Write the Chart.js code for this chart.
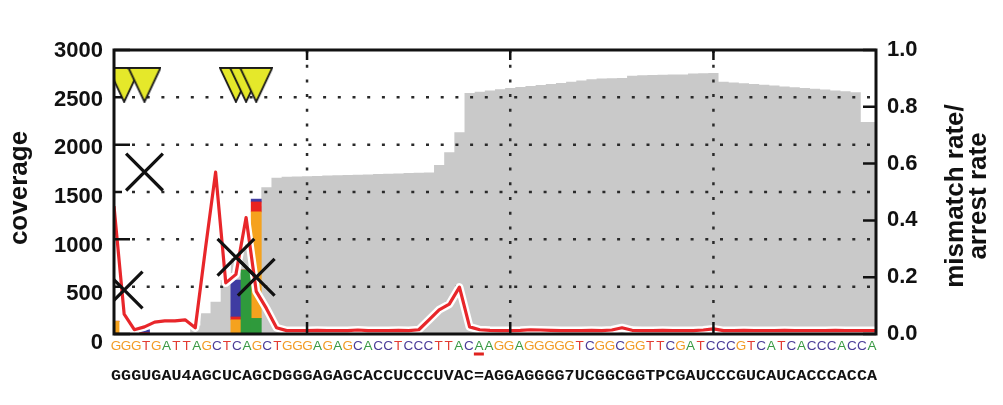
<!DOCTYPE html>
<html>
<head>
<meta charset="utf-8">
<title>tRNA coverage / mismatch profile</title>
<script src="https://cdn.jsdelivr.net/npm/chart.js@4/dist/chart.umd.min.js"></script>
<style>
  html, body { margin: 0; padding: 0; background: #fff; }
  #wrap { width: 1003px; height: 405px; }
</style>
</head>
<body>
<div id="wrap"><canvas id="profile" width="1003" height="405"></canvas></div>
<script>
// reference DNA sequence and the modified tRNA sequence (one letter per position)
const dnaSeq = 'GGGTGATTAGCTCAGCTGGGAGAGCACCTCCCTTACAAGGAGGGGGTCGGCGGTTCGATCCCGTCATCACCCACCA';
const modSeq = 'GGGUGAU4AGCUCAGCDGGGAGAGCACCUCCCUVAC=AGGAGGGG7UCGGCGGTPCGAUCCCGUCAUCACCCACCA';
const positions = dnaSeq.split('').map((_, i) => i + 1);

// read coverage per position (left axis)
const coverage = [
  0, 0, 0, 0, 0, 0, 0, 0, 90, 220,
  340, 570, 800, 1100, 1350, 1550, 1650, 1660, 1663, 1666,
  1670, 1673, 1676, 1680, 1683, 1686, 1690, 1693, 1696, 1700,
  1703, 1706, 1785, 1920, 2130, 2545, 2560, 2572, 2585, 2598,
  2610, 2620, 2630, 2640, 2652, 2665, 2678, 2690, 2700, 2702,
  2705, 2728, 2732, 2735, 2738, 2740, 2742, 2752, 2755, 2758,
  2665, 2657, 2648, 2640, 2632, 2624, 2615, 2607, 2598, 2590,
  2582, 2573, 2565, 2555, 2240, 2240
];

// mismatch rate per position (right axis)
const mismatchRate = [
  0.45, 0.07, 0.015, 0.025, 0.042, 0.046, 0.046, 0.05, 0.022, 0.30,
  0.57, 0.18, 0.21, 0.41, 0.15, 0.09, 0.022, 0.012, 0.012, 0.012,
  0.013, 0.012, 0.012, 0.012, 0.014, 0.012, 0.012, 0.012, 0.013, 0.012,
  0.015, 0.05, 0.085, 0.105, 0.165, 0.025, 0.015, 0.013, 0.012, 0.012,
  0.013, 0.015, 0.014, 0.013, 0.012, 0.012, 0.012, 0.013, 0.012, 0.014,
  0.022, 0.013, 0.012, 0.012, 0.013, 0.012, 0.012, 0.012, 0.014, 0.018,
  0.012, 0.012, 0.013, 0.012, 0.012, 0.012, 0.013, 0.012, 0.012, 0.012,
  0.012, 0.013, 0.012, 0.012, 0.012, 0.012
];

// arrest sites (crosses)
const arrestPos = [2, 4, 13, 15];
const arrestRate = [0.155, 0.57, 0.27, 0.2];

// known modification sites, flagged along the top
const modPos = [2, 4, 13, 14, 15];
const modFlagLevel = 0.877;

// mismatch breakdown by called base
const mmPos = [1, 4, 13, 14, 15];
const mmA = [0, 0, 0, 0.225, 0.055];
const mmG = [0.045, 0, 0.05, 0, 0.375];
const mmT = [0, 0.005, 0.01, 0, 0.035];
const mmC = [0, 0.01, 0.13, 0, 0.01];

const coverageTicks = [0, 500, 1000, 1500, 2000, 2500, 3000];
const rateTicks = [0, 0.2, 0.4, 0.6, 0.8, 1.0];
const gridPos = [20, 40, 60];
const underlined = [37];

const baseColor = { G: '#f29b26', A: '#3a9a44', T: '#e23b32', C: '#4b3c98' };
const FONT = '"Liberation Sans", Arial, sans-serif';

const pts = (xs, ys) => xs.map((x, i) => ({ x: x, y: ys[i] }));

// downward yellow flag used as a point style
function makeFlag(w, h) {
  const c = document.createElement('canvas');
  c.width = w; c.height = h;
  const g = c.getContext('2d');
  g.beginPath();
  g.moveTo(1, 1);
  g.lineTo(w - 1, 1);
  g.lineTo(w / 2, h - 1);
  g.closePath();
  g.fillStyle = '#e5e82a';
  g.fill();
  g.lineWidth = 1.8;
  g.strokeStyle = '#1a1a1a';
  g.stroke();
  return c;
}

function rotatedText(ctx, text, x, y) {
  ctx.save();
  ctx.translate(x, y);
  ctx.rotate(-Math.PI / 2);
  ctx.fillText(text, 0, 0);
  ctx.restore();
}

const frame = {
  id: 'frame',
  // dotted grid goes on top of the coverage fill, under everything else
  afterDatasetDraw(chart, args) {
    if (args.index !== 0) return;
    const { ctx, chartArea: a, scales: { x, y } } = chart;
    ctx.save();
    ctx.strokeStyle = '#2a2a2a';
    ctx.lineWidth = 2.5;
    ctx.setLineDash([3, 11.7]);
    coverageTicks.slice(1, -1).forEach(v => {
      const py = y.getPixelForValue(v);
      ctx.beginPath();
      ctx.moveTo(a.left + 18, py);
      ctx.lineTo(a.right, py);
      ctx.stroke();
    });
    gridPos.forEach(p => {
      const px = x.getPixelForValue(p);
      ctx.beginPath();
      ctx.moveTo(px, a.top);
      ctx.lineTo(px, a.bottom);
      ctx.stroke();
    });
    ctx.restore();
  },
  afterDatasetsDraw(chart) {
    const { ctx, chartArea: a, scales: { x, y, y1 } } = chart;
    ctx.save();
    ctx.strokeStyle = '#111';
    ctx.lineWidth = 2.5;
    ctx.beginPath();
    coverageTicks.forEach(v => {
      const py = y.getPixelForValue(v);
      const len = v % 1000 === 0 ? 16 : 8;
      ctx.moveTo(a.left, py); ctx.lineTo(a.left + len, py);
    });
    rateTicks.forEach(v => {
      const py = y1.getPixelForValue(v);
      ctx.moveTo(a.right, py); ctx.lineTo(a.right - 13, py);
    });
    gridPos.forEach(p => {
      const px = x.getPixelForValue(p);
      ctx.moveTo(px, a.top); ctx.lineTo(px, a.top + 10);
      ctx.moveTo(px, a.bottom); ctx.lineTo(px, a.bottom - 12);
    });
    ctx.stroke();
    ctx.lineWidth = 3;
    ctx.strokeRect(a.left, a.top, a.right - a.left, a.bottom - a.top);
    ctx.restore();
  },
  afterDraw(chart) {
    const { ctx, chartArea: a, scales: { y } } = chart;
    ctx.save();
    ctx.fillStyle = '#111';

    // left tick labels
    ctx.font = 'bold 22px ' + FONT;
    ctx.textAlign = 'right';
    ctx.textBaseline = 'middle';
    coverageTicks.forEach(v => {
      const py = y.getPixelForValue(v) + (1 - v / 3000) * 8 + 1;
      ctx.fillText(String(v), a.left - 11, py);
    });

    // axis titles
    ctx.font = 'bold 26px ' + FONT;
    ctx.textAlign = 'center';
    ctx.textBaseline = 'alphabetic';
    rotatedText(ctx, 'coverage', 27, 188);
    rotatedText(ctx, 'mismatch rate/', 963, 196);
    rotatedText(ctx, 'arrest rate', 986, 196);

    // sequences under the x axis
    const step = (a.right - a.left - 6) / (dnaSeq.length - 1);
    const x0 = a.left + 2;
    ctx.textAlign = 'center';
    ctx.font = '13.5px ' + FONT;
    dnaSeq.split('').forEach((ch, i) => {
      ctx.fillStyle = baseColor[ch] || '#111';
      ctx.fillText(ch, x0 + i * step, 350);
    });
    ctx.fillStyle = '#e0231f';
    underlined.forEach(p => {
      ctx.fillRect(x0 + (p - 1) * step - 5, 352.5, 10, 3);
    });
    ctx.fillStyle = '#111';
    ctx.font = 'bold 14.5px "Liberation Mono", monospace';
    modSeq.split('').forEach((ch, i) => {
      ctx.save();
      ctx.translate(x0 + i * step, 379.5);
      ctx.scale(1.15, 1);
      ctx.fillText(ch, 0, 0);
      ctx.restore();
    });
    ctx.restore();
  }
};

const flag = makeFlag(34, 36);

new Chart(document.getElementById('profile'), {
  data: {
    datasets: [
      {
        type: 'line', label: 'coverage', yAxisID: 'y', order: 10,
        data: pts(positions, coverage),
        stepped: 'middle', fill: 'origin',
        backgroundColor: '#c9c9c9', borderWidth: 0, pointRadius: 0
      },
      { type: 'bar', label: 'A', yAxisID: 'ym', order: 8, data: pts(mmPos, mmA), backgroundColor: '#2f9a3c' },
      { type: 'bar', label: 'G', yAxisID: 'ym', order: 8, data: pts(mmPos, mmG), backgroundColor: '#f5a21e' },
      { type: 'bar', label: 'T', yAxisID: 'ym', order: 8, data: pts(mmPos, mmT), backgroundColor: '#e8231f' },
      { type: 'bar', label: 'C', yAxisID: 'ym', order: 8, data: pts(mmPos, mmC), backgroundColor: '#3f3ca2' },
      {
        type: 'line', label: 'halo', yAxisID: 'y1', order: 6,
        data: pts(positions, mismatchRate),
        borderColor: '#ffffff', borderWidth: 8, pointRadius: 0, tension: 0,
        borderJoinStyle: 'round'
      },
      {
        type: 'line', label: 'mismatch rate', yAxisID: 'y1', order: 5,
        data: pts(positions, mismatchRate),
        borderColor: '#e8262a', borderWidth: 3.2, pointRadius: 0, tension: 0,
        borderJoinStyle: 'round'
      },
      {
        type: 'scatter', label: 'arrest rate', yAxisID: 'y1', order: 3, clip: 0,
        data: pts(arrestPos, arrestRate),
        pointStyle: 'crossRot', pointRadius: 26, borderWidth: 3.2,
        borderColor: '#111', backgroundColor: '#111'
      },
      {
        type: 'scatter', label: 'modified', yAxisID: 'y1', order: 1, clip: 0,
        data: modPos.map(p => ({ x: p, y: modFlagLevel })),
        pointStyle: flag, pointRadius: 18
      }
    ]
  },
  options: {
    responsive: false,
    animation: false,
    events: [],
    layout: { padding: { left: 114, top: 50, right: 0, bottom: 71 } },
    datasets: {
      bar: { barPercentage: 1, categoryPercentage: 1, grouped: false, borderWidth: 0 }
    },
    plugins: { legend: { display: false }, tooltip: { enabled: false } },
    scales: {
      x: { type: 'linear', display: false, offset: false, min: 1, max: 76 },
      y: { type: 'linear', display: false, position: 'left', min: 0, max: 3000 },
      ym: { type: 'linear', display: false, position: 'right', min: 0, max: 1, stacked: true },
      y1: {
        type: 'linear', position: 'right', min: 0, max: 1,
        grid: { display: false, drawTicks: false },
        border: { display: false },
        ticks: {
          stepSize: 0.2, padding: 11, color: '#111',
          font: { family: FONT, size: 22, weight: 'bold' },
          callback: v => Number(v).toFixed(1)
        },
        afterFit: s => { s.width = 127; }
      }
    }
  },
  plugins: [frame]
});
</script>
</body>
</html>
